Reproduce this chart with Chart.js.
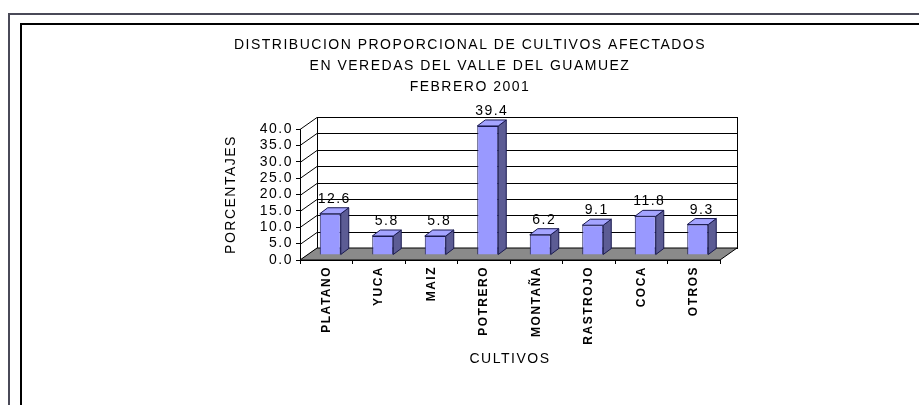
<!DOCTYPE html>
<html>
<head>
<meta charset="utf-8">
<script src="https://cdn.jsdelivr.net/npm/chart.js@4/dist/chart.umd.min.js"></script>
<style>
  html, body { margin: 0; padding: 0; background: #fff; }
  canvas { display: block; }
</style>
</head>
<body>
<canvas id="chart" width="919" height="405"></canvas>
<script>
var categories = ['PLATANO', 'YUCA', 'MAIZ', 'POTRERO', 'MONTAÑA', 'RASTROJO', 'COCA', 'OTROS'];
var porcentajes = [12.6, 5.8, 5.8, 39.4, 6.2, 9.1, 11.8, 9.3];
var yMin = 0, yMax = 40, yStep = 5;
var titleLines = ['DISTRIBUCION PROPORCIONAL DE CULTIVOS AFECTADOS', 'EN VEREDAS DEL VALLE DEL GUAMUEZ', 'FEBRERO 2001'];

var FONT = "'Liberation Sans', Arial, sans-serif";
// depth of the box, shift of bar front and bar depth
var DX = 17, DY = -12;
var BX = 4, BY = -5;
var BDX = 8, BDY = -6;

function poly(ctx, pts, fill, stroke) {
  ctx.beginPath();
  ctx.moveTo(pts[0][0], pts[0][1]);
  for (var i = 1; i < pts.length; i++) ctx.lineTo(pts[i][0], pts[i][1]);
  ctx.closePath();
  if (fill) { ctx.fillStyle = fill; ctx.fill(); }
  if (stroke) { ctx.strokeStyle = stroke; ctx.lineWidth = 1; ctx.stroke(); }
}

var frames = {
  id: 'frames',
  beforeDraw: function (chart) {
    var ctx = chart.ctx;
    ctx.letterSpacing = '1.5px';
    ctx.save();
    ctx.lineWidth = 2;
    ctx.strokeStyle = '#4a4a58';
    ctx.beginPath();
    ctx.moveTo(9, 405); ctx.lineTo(9, 14); ctx.lineTo(919, 14);
    ctx.stroke();
    ctx.strokeStyle = '#000';
    ctx.beginPath();
    ctx.moveTo(21, 405); ctx.lineTo(21, 24); ctx.lineTo(919, 24);
    ctx.stroke();
    ctx.restore();
  }
};

var box3d = {
  id: 'box3d',
  beforeDatasetsDraw: function (chart) {
    var ctx = chart.ctx, a = chart.chartArea, y = chart.scales.y;
    ctx.save();
    // back wall
    ctx.strokeStyle = '#000';
    ctx.lineWidth = 1;
    ctx.fillStyle = '#fff';
    ctx.fillRect(a.left + DX, a.top + DY, a.right - a.left, a.bottom - a.top);
    ctx.strokeRect(a.left + DX + 0.5, a.top + DY + 0.5, a.right - a.left, a.bottom - a.top);
    y.ticks.forEach(function (t) {
      var py = Math.round(y.getPixelForValue(t.value)) + 0.5;
      ctx.beginPath();
      ctx.moveTo(a.left + DX, py + DY);
      ctx.lineTo(a.right + DX, py + DY);
      ctx.moveTo(a.left, py);
      ctx.lineTo(a.left + DX, py + DY);
      ctx.stroke();
    });
    // floor
    poly(ctx, [[a.left, a.bottom], [a.right, a.bottom], [a.right + DX, a.bottom + DY], [a.left + DX, a.bottom + DY]], '#8a8a8a', '#000');
    ctx.restore();
    ctx.save();
    ctx.translate(BX, BY);
  },
  afterDatasetsDraw: function (chart) {
    var ctx = chart.ctx;
    var meta = chart.getDatasetMeta(0);
    meta.data.forEach(function (bar, i) {
      var l = bar.x - bar.width / 2, r = bar.x + bar.width / 2;
      poly(ctx, [[r, bar.y], [r + BDX, bar.y + BDY], [r + BDX, bar.base + BDY], [r, bar.base]], '#5c5c94', '#1a1a50');
      poly(ctx, [[l, bar.y], [l + BDX, bar.y + BDY], [r + BDX, bar.y + BDY], [r, bar.y]], '#a4a4ff', '#1a1a50');
      ctx.fillStyle = '#000';
      ctx.font = '14px ' + FONT;
      ctx.textAlign = 'center';
      ctx.textBaseline = 'alphabetic';
      ctx.fillText(porcentajes[i].toFixed(1), bar.x + BDX / 2, bar.y + BDY - 5);
    });
    ctx.restore();
  }
};

new Chart(document.getElementById('chart'), {
  type: 'bar',
  data: {
    labels: categories,
    datasets: [{
      label: 'PORCENTAJES',
      data: porcentajes,
      backgroundColor: '#9999ff',
      borderColor: '#1a1a50',
      borderWidth: 1,
      barPercentage: 0.4,
      categoryPercentage: 1,
      clip: false
    }]
  },
  options: {
    responsive: false,
    animation: false,
    layout: { padding: { left: 220, right: 199, top: 30, bottom: 33 } },
    plugins: {
      legend: { display: false },
      tooltip: { enabled: false },
      title: {
        display: true,
        text: titleLines,
        color: '#000',
        font: { family: FONT, size: 14, weight: 'normal', lineHeight: 1.5 },
        padding: { top: 5, bottom: 31 }
      }
    },
    scales: {
      x: {
        offset: true,
        grid: { drawOnChartArea: false, tickLength: 4, color: '#000', offset: true },
        border: { color: '#000' },
        ticks: { minRotation: 90, maxRotation: 90, padding: 2, color: '#000', font: { family: FONT, size: 12, weight: 'bold' } },
        title: { display: true, text: 'CULTIVOS', color: '#000', font: { family: FONT, size: 14 }, padding: 4 },
        afterFit: function (s) { s.height = 112; }
      },
      y: {
        min: yMin,
        max: yMax,
        grid: { drawOnChartArea: false, tickLength: 4, color: '#000' },
        border: { color: '#000' },
        ticks: {
          stepSize: yStep,
          autoSkip: false,
          padding: 3,
          color: '#000',
          font: { family: FONT, size: 14, lineHeight: 1 },
          callback: function (v) { return v.toFixed(1); }
        },
        title: { display: true, text: 'PORCENTAJES', color: '#000', font: { family: FONT, size: 14 }, padding: 3 },
        afterFit: function (s) { s.width = 80; }
      }
    }
  },
  plugins: [frames, box3d]
});
</script>
</body>
</html>
